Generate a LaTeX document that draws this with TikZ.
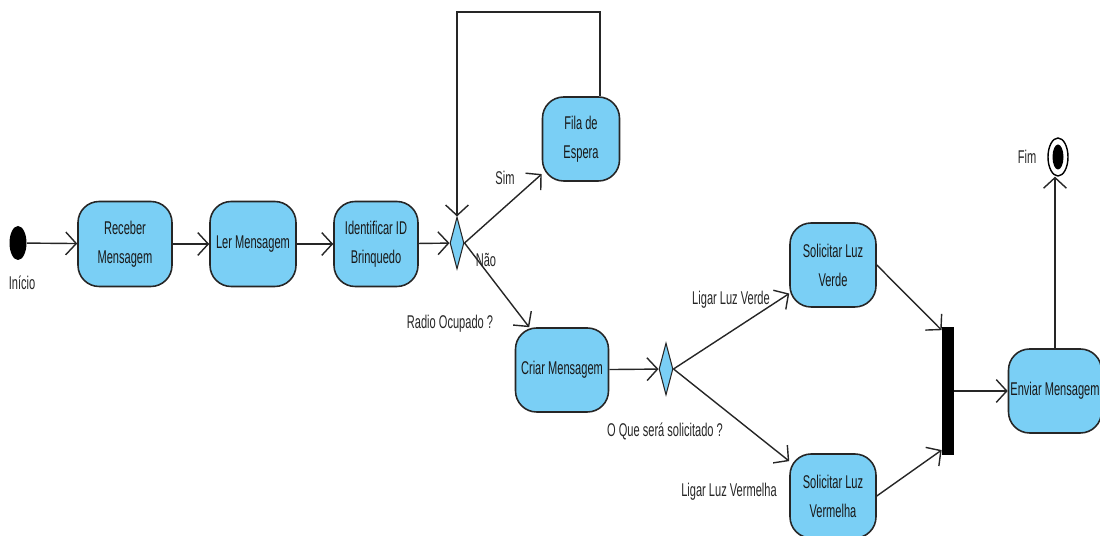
\documentclass[tikz,border=0pt]{standalone}
\usepackage{fontspec}
\setmainfont{Liberation Sans}[FakeStretch=0.6]
\usetikzlibrary{shapes.geometric,arrows.meta}
\definecolor{azulacao}{RGB}{122,207,245}

\begin{document}
\begin{tikzpicture}[x=0.02cm,y=-0.02cm,
	font=\fontsize{10.5}{16.5}\selectfont,
	acao/.style={draw=black!85, line width=0.9pt, fill=azulacao, rounded corners=12pt, align=center, inner sep=1pt, text=black!90},
	decisao/.style={diamond, draw=black!85, line width=0.6pt, fill=azulacao, inner sep=0pt, minimum width=0.28cm, minimum height=1.04cm},
	fluxo/.style={draw=black!85, line width=0.8pt, -{Straight Barb[length=6pt,width=13pt]}},
	rotulo/.style={text=black!85, inner sep=1pt}]
	\useasboundingbox (0,0) rectangle (1100,536);

	% inicio e acoes da linha principal
	\node [ellipse, fill=black, minimum width=0.34cm, minimum height=0.68cm, inner sep=0pt] (ini) at (18,243) {};
	\node [rotulo] (lblini) at (22,283) {Início};
	\node [acao, minimum width=1.88cm, minimum height=1.7cm] (receber) at (125,244) {Receber\\Mensagem};
	\node [acao, minimum width=1.72cm, minimum height=1.7cm] (ler) at (253,244) {Ler Mensagem};
	\node [acao, minimum width=1.68cm, minimum height=1.7cm] (ident) at (376,244) {Identificar ID\\Brinquedo};
	\node [decisao] (radio) at (457,243) {};

	% fila de espera
	\node [acao, minimum width=1.54cm, minimum height=1.68cm] (fila) at (581,139) {Fila de\\Espera};
	\coordinate (topo) at (457,12);

	% criar mensagem e escolha da luz
	\node [acao, minimum width=1.86cm, minimum height=1.68cm] (criar) at (562,370) {Criar Mensagem};
	\node [decisao] (luz) at (666,369) {};
	\node [acao, minimum width=1.72cm, minimum height=1.68cm] (verde) at (833,265) {Solicitar Luz\\Verde};
	\node [acao, minimum width=1.72cm, minimum height=1.68cm] (vermelha) at (833,496) {Solicitar Luz\\Vermelha};
	\node [fill=black, minimum width=0.24cm, minimum height=2.56cm, inner sep=0pt] (juncao) at (948,391) {};
	\node [acao, minimum width=1.86cm, minimum height=1.68cm] (enviar) at (1055,391) {Enviar Mensagem};

	% fim
	\node [ellipse, draw=black, line width=0.8pt, fill=white, minimum width=0.4cm, minimum height=0.76cm, inner sep=0pt] (fim) at (1058,157) {};
	\node [ellipse, fill=black, minimum width=0.22cm, minimum height=0.5cm, inner sep=0pt] at (fim) {};
	\node [rotulo] (lblfim) at (1027,157) {Fim};

	% rotulos das transicoes
	\node [rotulo] (lblsim) at (505,178) {Sim};
	\node [rotulo] (lblnao) at (486,260) {Não};
	\node [rotulo] (lblradio) at (450,324) {Radio Ocupado ?};
	\node [rotulo] (lblverde) at (731,300) {Ligar Luz Verde};
	\node [rotulo] (lblque) at (665,431) {O Que será solicitado ?};
	\node [rotulo] (lblverm) at (729,492) {Ligar Luz Vermelha};

	% transicoes
	\draw [fluxo] (ini) -- (receber);
	\draw [fluxo] (receber) -- (ler);
	\draw [fluxo] (ler) -- (ident);
	\draw [fluxo] (ident) -- (radio);
	\draw [fluxo] (radio.east) -- (fila);
	\draw [fluxo] (radio.east) -- (criar);
	\draw [fluxo] ([xshift=0.38cm]fila.north) |- (topo) -- (radio.north);
	\draw [fluxo] (criar) -- (luz);
	\draw [fluxo] (luz.east) -- (verde);
	\draw [fluxo] (luz.east) -- (vermelha);
	\draw [fluxo] (verde.east) -- ([yshift=-2pt]juncao.north west);
	\draw [fluxo] (vermelha.east) -- ([yshift=3pt]juncao.south west);
	\draw [fluxo] (juncao.east) -- (enviar.west);
	\draw [fluxo] (enviar.north) -- (enviar.north |- fim.south);
\end{tikzpicture}
\end{document}
